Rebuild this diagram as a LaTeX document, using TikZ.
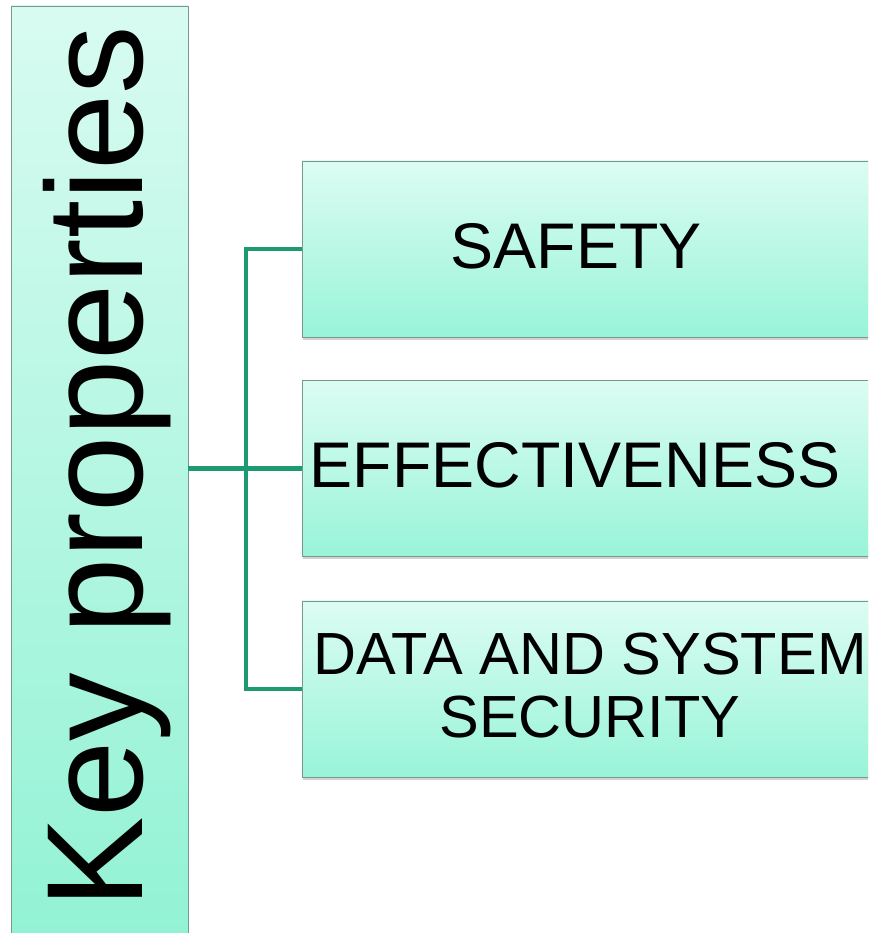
\documentclass[tikz,border=0pt]{standalone}
\usepackage{fontspec}
\setmainfont{Liberation Sans}
\usetikzlibrary{shadows}
\definecolor{boxtop}{HTML}{DCFCF3}
\definecolor{boxbot}{HTML}{98F4D8}
\definecolor{keytop}{HTML}{D8FBF1}
\definecolor{keybot}{HTML}{92F2D4}
\definecolor{edgegray}{HTML}{7A968D}
\definecolor{linkgreen}{HTML}{1E9A72}
\tikzset{
  keybox/.style={draw=edgegray, line width=0.8pt, top color=keytop, bottom color=keybot,
    minimum width=177pt, minimum height=940pt, inner sep=0pt},
  itembox/.style={draw=edgegray, line width=0.8pt, top color=boxtop, bottom color=boxbot,
    minimum width=600pt, minimum height=176pt, inner sep=0pt,
    drop shadow={opacity=0.35, shadow xshift=1pt, shadow yshift=-3pt}},
  itemtext/.style={inner sep=0pt, align=center, font=\fontsize{64.5}{68}\selectfont},
  smalltext/.style={inner sep=0pt, align=center, font=\fontsize{59.5}{63}\selectfont},
  keytext/.style={inner sep=0pt, rotate=90, anchor=base, font=\fontsize{137}{137}\selectfont},
  conn/.style={draw=linkgreen, line width=4.5pt}
}
\begin{document}
\begin{tikzpicture}[x=1pt,y=1pt]
\useasboundingbox (0,0) rectangle (868,933);
\clip (0,0) rectangle (868,933);
\fill[white] (0,0) rectangle (868,933);

% vertical title bar
\node[keybox] (keys) at (99.5,457) {};
\node[keytext] (keylabel) at (142,466) {Key properties};

% the three property boxes
\node[itembox] (safety) at (602,684) {};
\node[itembox] (effect) at (602,464.5) {};
\node[itembox] (secure) at (602,244) {};

\node[itemtext] (safetytext) at (576,686.5) {SAFETY};
\node[itemtext] (effecttext) at (575,467.5) {EFFECTIVENESS};
\node[smalltext] (securetext) at (590,247.5) {DATA AND SYSTEM\\SECURITY};

% bracket connectors
\coordinate (hub) at (246,465);
\draw[conn] (keys.east |- effect.west) -- (effect.west);
\draw[conn] (safety.west) -| (hub) |- (secure.west);
\end{tikzpicture}
\end{document}
